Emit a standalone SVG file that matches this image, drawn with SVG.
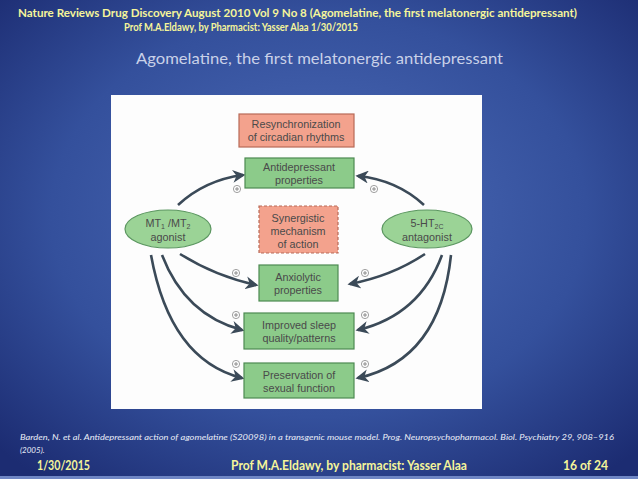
<svg xmlns="http://www.w3.org/2000/svg" width="638" height="479" viewBox="0 0 638 479">
<defs>
<radialGradient id="bg" cx="50%" cy="45%" r="70%">
<stop offset="0" stop-color="#4d6cb8"/>
<stop offset="0.6" stop-color="#34509c"/>
<stop offset="1" stop-color="#1c2c72"/>
</radialGradient>
<marker id="ah" viewBox="0 0 10 10" refX="8" refY="5" markerWidth="5" markerHeight="5" orient="auto">
<path d="M0,0 L10,5 L0,10 L3,5 Z" fill="#3b4a58"/>
</marker>
<g id="plus"><circle r="3.6" fill="#fff" stroke="#888" stroke-width="0.8"/><path d="M-2,0 H2 M0,-2 V2" stroke="#777" stroke-width="0.8"/></g>
</defs>
<style>
.hdr{font-family:Lato,"Liberation Sans",Arial,sans-serif;font-weight:bold;fill:#f5f59a}
.ttl{font-family:Lato,"Liberation Sans",Arial,sans-serif;fill:#c9d1e8;font-size:16px}
.ref{font-family:Lato,"Liberation Sans",Arial,sans-serif;font-style:italic;fill:#e8ecf6;font-size:8px}
.bt{font-family:"Liberation Sans",Arial,sans-serif;fill:#4a4a4a;font-size:10.8px;text-anchor:middle}
.sal{fill:#f3a28d;stroke:#b86a58;stroke-width:1.2}
.grn{fill:#8ccb8a;stroke:#4d8a52;stroke-width:1.2}
.ell{fill:#9bd396;stroke:#5b9660;stroke-width:1.2}
.arr{fill:none;stroke:#3b4a58;stroke-width:2.6;marker-end:url(#ah)}
</style>
<rect width="638" height="479" fill="url(#bg)"/>
<rect x="0" y="476" width="638" height="3" fill="#6f86c4"/>
<text class="hdr" x="18" y="17" font-size="11.5" textLength="559" lengthAdjust="spacingAndGlyphs">Nature Reviews Drug Discovery August 2010 Vol 9 No 8  (Agomelatine, the first melatonergic antidepressant)</text>
<text class="hdr" x="124" y="31" font-size="11.5" textLength="234" lengthAdjust="spacingAndGlyphs">Prof M.A.Eldawy, by Pharmacist: Yasser Alaa 1/30/2015</text>
<text class="ttl" x="136" y="64" textLength="367" lengthAdjust="spacingAndGlyphs">Agomelatine, the first melatonergic antidepressant</text>
<rect x="111" y="95" width="371" height="314" fill="#fdfdfd"/>
<g id="connectors">
<path class="arr" d="M178,205 Q205,180 243,175"/>
<path class="arr" d="M424,205 Q397,180 358,176"/>
<path class="arr" d="M180,254 Q215,276 256,285"/>
<path class="arr" d="M162,255 Q185,315 242,330"/>
<path class="arr" d="M151,255 Q170,360 242,378"/>
<path class="arr" d="M425,254 Q392,276 350,284"/>
<path class="arr" d="M442,255 Q420,315 358,330"/>
<path class="arr" d="M451,255 Q440,360 358,378"/>
<use href="#plus" x="237" y="189"/>
<use href="#plus" x="374" y="189"/>
<use href="#plus" x="236" y="273"/>
<use href="#plus" x="365" y="273"/>
<use href="#plus" x="236" y="315"/>
<use href="#plus" x="365" y="315"/>
<use href="#plus" x="236" y="364"/>
<use href="#plus" x="365" y="364"/>
</g>
<g id="resync"><rect class="sal" x="239" y="114" width="115" height="33"/><text class="bt" x="296" y="128">Resynchronization</text><text class="bt" x="296" y="141">of circadian rhythms</text></g>
<g id="antidep"><rect class="grn" x="245" y="158" width="109" height="30"/><text class="bt" x="299" y="171">Antidepressant</text><text class="bt" x="299" y="184">properties</text></g>
<g id="synergy"><rect class="sal" x="259" y="206" width="79" height="47" stroke-dasharray="3,2"/><text class="bt" x="298" y="222">Synergistic</text><text class="bt" x="298" y="235">mechanism</text><text class="bt" x="298" y="248">of action</text></g>
<g id="anxio"><rect class="grn" x="259" y="265" width="79" height="36"/><text class="bt" x="298" y="281">Anxiolytic</text><text class="bt" x="298" y="294">properties</text></g>
<g id="sleep"><rect class="grn" x="244" y="313" width="110" height="36"/><text class="bt" x="299" y="329">Improved sleep</text><text class="bt" x="299" y="342">quality/patterns</text></g>
<g id="sexual"><rect class="grn" x="244" y="363" width="110" height="35"/><text class="bt" x="299" y="379">Preservation of</text><text class="bt" x="299" y="392">sexual function</text></g>
<g id="mt"><ellipse class="ell" cx="168" cy="229" rx="43" ry="19"/><text class="bt" x="168" y="227">MT<tspan font-size="7" dy="2">1</tspan><tspan dy="-2"> /MT</tspan><tspan font-size="7" dy="2">2</tspan></text><text class="bt" x="168" y="241">agonist</text></g>
<g id="ht"><ellipse class="ell" cx="427" cy="229" rx="45" ry="19"/><text class="bt" x="427" y="227">5-HT<tspan font-size="7" dy="2">2C</tspan></text><text class="bt" x="427" y="241">antagonist</text></g>
<text class="ref" x="20" y="440" textLength="594" lengthAdjust="spacingAndGlyphs">Barden, N. et al. Antidepressant action of agomelatine (S20098) in a transgenic mouse model. Prog. Neuropsychopharmacol. Biol. Psychiatry 29, 908–916</text>
<text class="ref" x="20" y="453">(2005).</text>
<text class="hdr" x="37" y="470" font-size="12.5" textLength="53" lengthAdjust="spacingAndGlyphs">1/30/2015</text>
<text class="hdr" x="231" y="470" font-size="12.5" textLength="236" lengthAdjust="spacingAndGlyphs">Prof M.A.Eldawy, by pharmacist: Yasser Alaa</text>
<text class="hdr" x="563" y="470" font-size="12.5" textLength="45" lengthAdjust="spacingAndGlyphs">16 of 24</text>
</svg>
